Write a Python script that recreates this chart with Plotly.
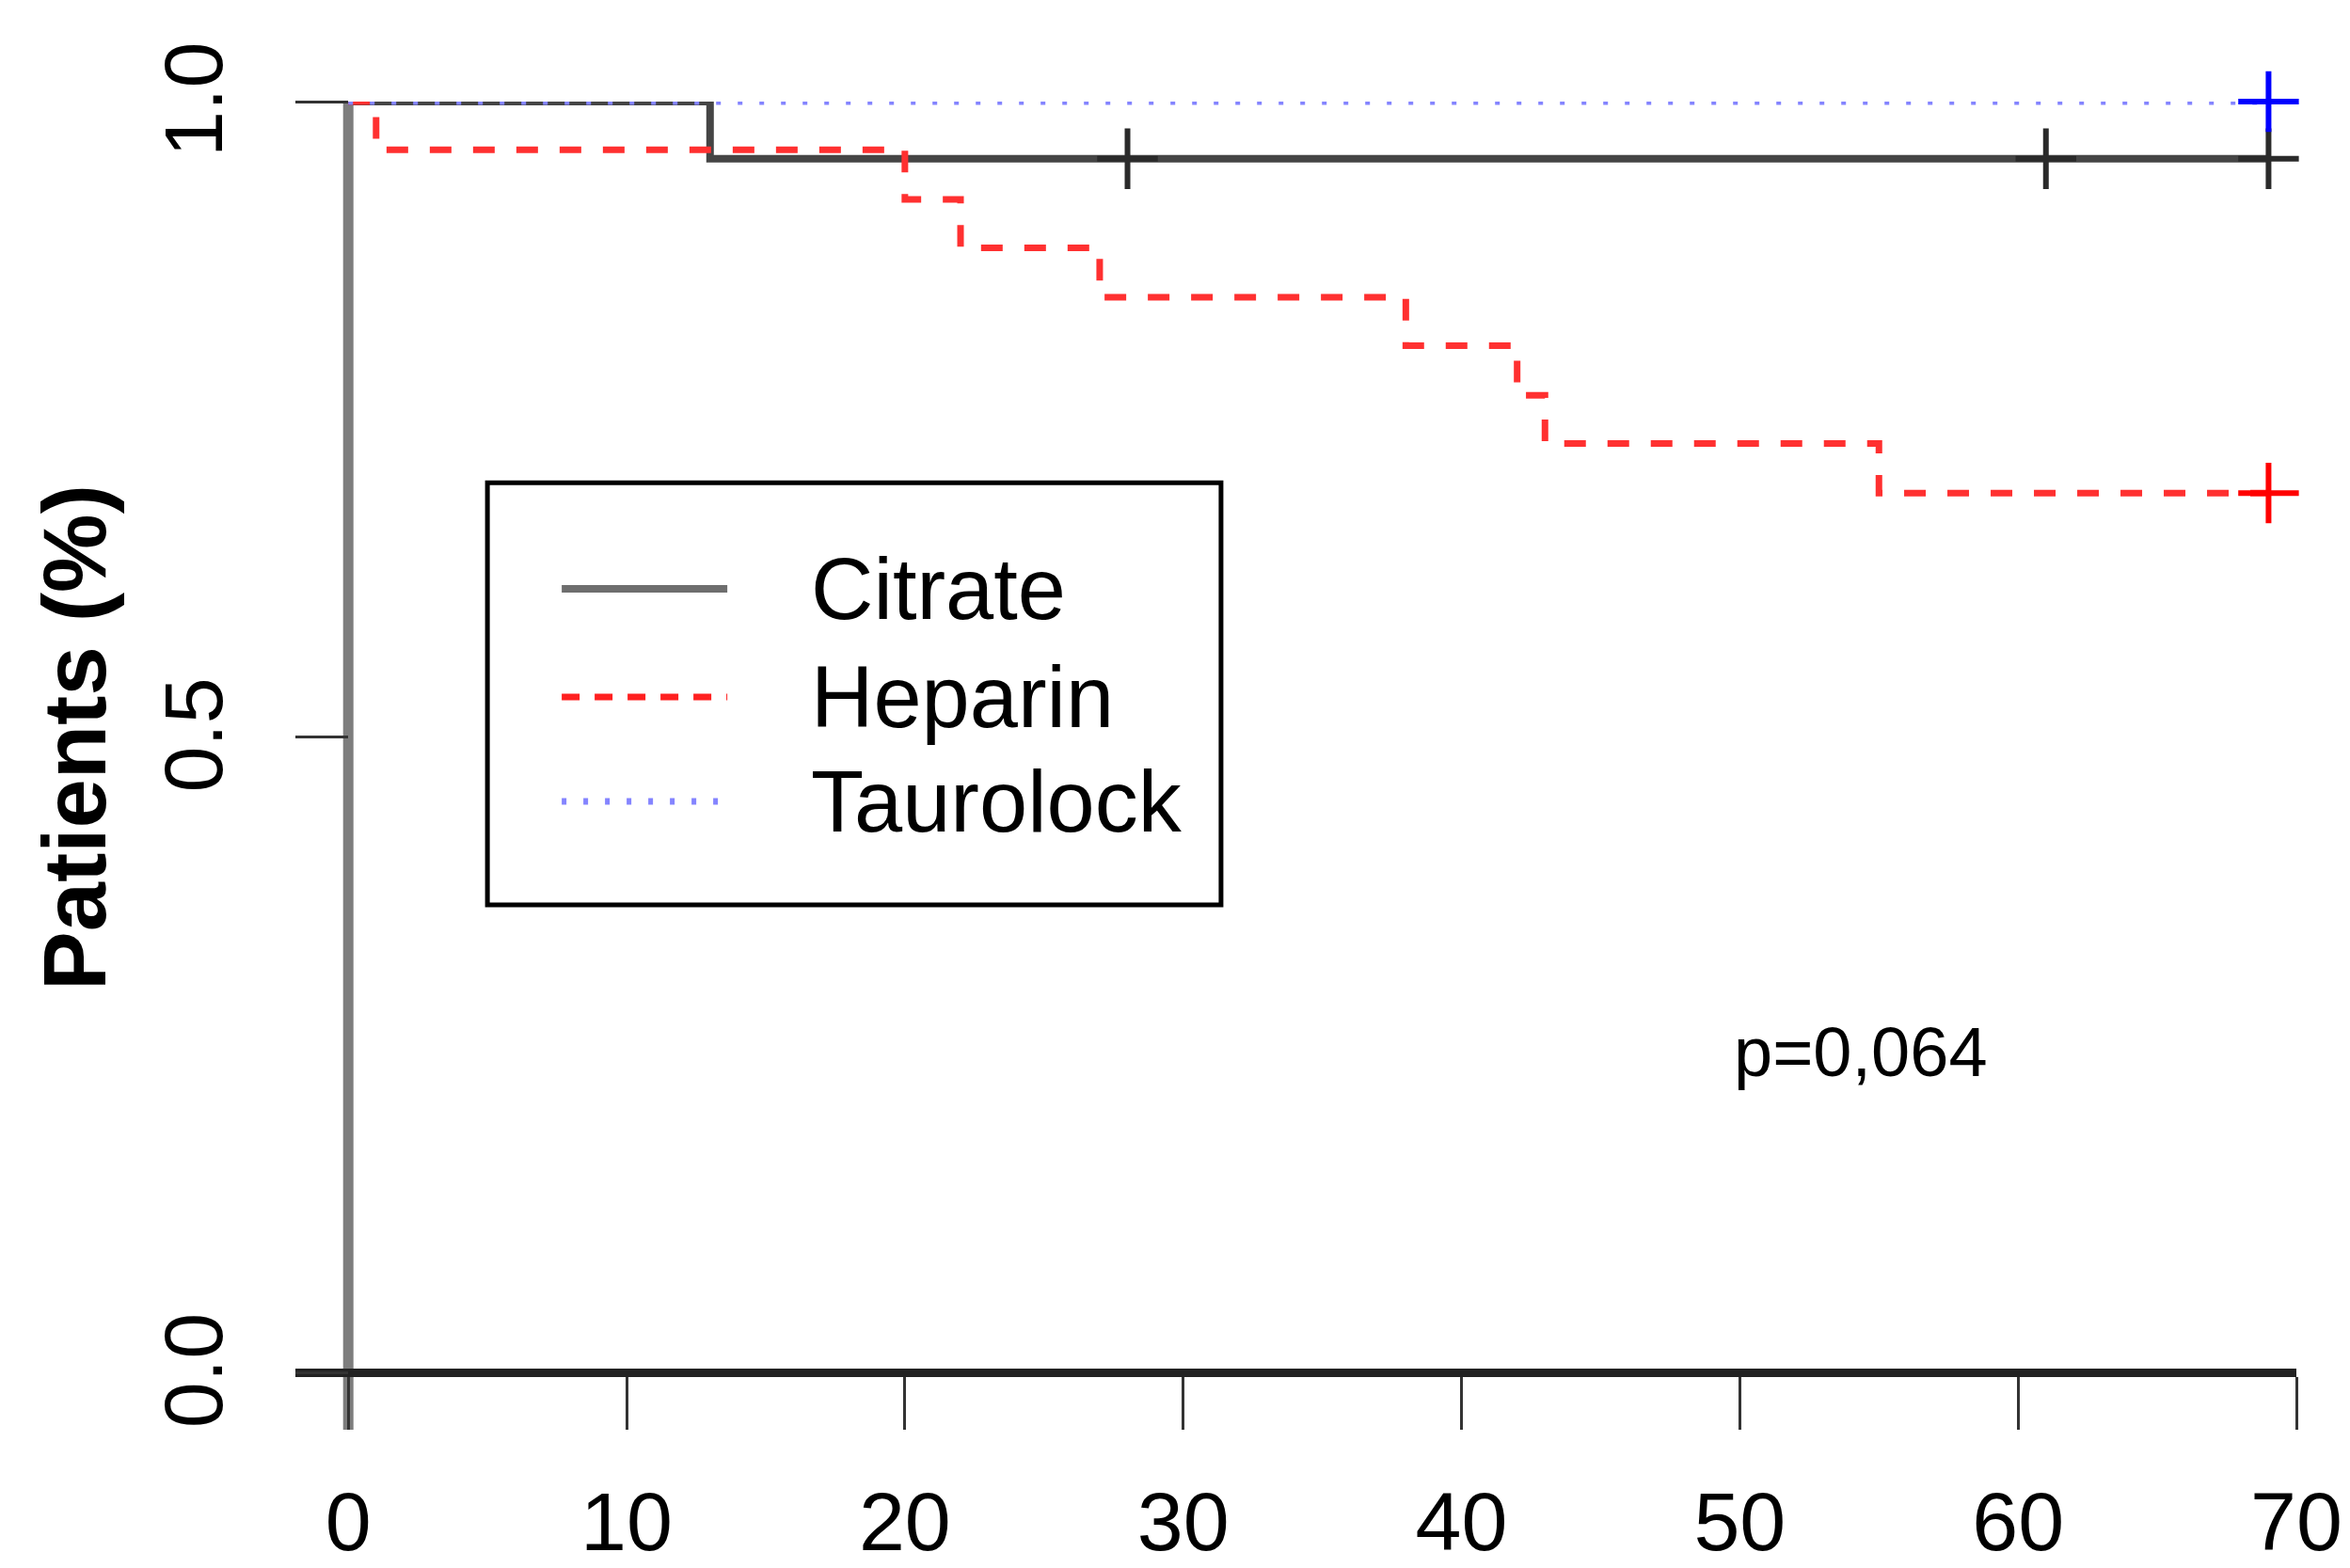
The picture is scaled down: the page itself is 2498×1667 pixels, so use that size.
import plotly.graph_objects as go

# ---- data ----
citrate_t = [0, 13, 69]
citrate_s = [1.0, 0.955, 0.955]
citrate_cens_t = [28, 61, 69]
citrate_cens_s = [0.955, 0.955, 0.955]

heparin_t = [0, 1, 20, 22, 27, 38, 42, 43, 55, 69]
heparin_s = [1.0, 0.962, 0.923, 0.885, 0.846, 0.808, 0.769, 0.731, 0.692, 0.692]
heparin_cens_t = [69]
heparin_cens_s = [0.692]

tauro_t = [0, 69]
tauro_s = [1.0, 1.0]
tauro_cens_t = [69]
tauro_cens_s = [1.0]

group_names = ["Citrate", "Heparin", "Taurolock"]
x_ticks = [0, 10, 20, 30, 40, 50, 60, 70]
y_ticks = [0.0, 0.5, 1.0]
y_tick_text = ["0.0", "0.5", "1.0"]
p_text = "p=0,064"
y_title = "Patients (%)"

# ---- figure geometry ----
W, H = 2498, 1667
XR = [-1.9, 70.0]
YR = [-0.045, 1.0]
ML, MR, MT, MB = 306, 65, 100, 155

FONT = "Liberation Sans, Arial, sans-serif"

fig = go.Figure()

styles = [
    dict(color="#454545", width=8, dash="solid"),
    dict(color="#ff3030", width=7, dash="23px,23px"),
    dict(color="#8484ff", width=7, dash="5px,18px"),
]
cross_cols = ["#2a2a2a", "#ff0000", "#0000ff"]
curves = [(citrate_t, citrate_s, citrate_cens_t, citrate_cens_s),
          (heparin_t, heparin_s, heparin_cens_t, heparin_cens_s),
          (tauro_t, tauro_s, tauro_cens_t, tauro_cens_s)]

for name, st, cc, (t, s, ct, cs) in zip(group_names, styles, cross_cols, curves):
    fig.add_trace(go.Scatter(x=t, y=s, mode="lines", line_shape="hv",
                             line=st, name=name, showlegend=False,
                             cliponaxis=False, hoverinfo="skip"))
    fig.add_trace(go.Scatter(x=ct, y=cs, mode="markers", showlegend=False,
                             cliponaxis=False, hoverinfo="skip",
                             marker=dict(symbol="cross-thin", size=46,
                                         line=dict(color=cc, width=6))))

# vertical axis line at x = 0 (drawn as in the reference, inside the frame)
shapes = [
    dict(type="line", xref="x", yref="y", x0=0, x1=0, y0=YR[0], y1=1.0,
         line=dict(color="#7d7d7d", width=11), layer="below"),
]

# ---- manual legend ----
leg_box = dict(x0=5.0, x1=31.36, y0=0.368, y1=0.700)
leg_line_x = [7.67, 13.62]
leg_y = [0.6166, 0.5315, 0.4493]
leg_text_x = 16.56
leg_sample_styles = [
    dict(color="#6e6e6e", width=8, dash="solid"),
    dict(color="#ff2020", width=7, dash="19px,16px"),
    dict(color="#8484ff", width=7, dash="5px,18px"),
]
shapes.append(dict(type="rect", xref="x", yref="y", **leg_box,
                   line=dict(color="black", width=5), fillcolor="rgba(0,0,0,0)"))
annotations = []
for name, ly, st in zip(group_names, leg_y, leg_sample_styles):
    shapes.append(dict(type="line", xref="x", yref="y",
                       x0=leg_line_x[0], x1=leg_line_x[1], y0=ly, y1=ly, line=st))
    annotations.append(dict(x=leg_text_x, y=ly, xref="x", yref="y", text=name,
                            showarrow=False, xanchor="left", yanchor="middle",
                            font=dict(family=FONT, size=92, color="black")))

# p-value
annotations.append(dict(x=54.35, y=0.252, xref="x", yref="y", text=p_text,
                        showarrow=False, xanchor="center", yanchor="middle",
                        font=dict(family=FONT, size=74, color="black")))

# y-axis title (paper coordinates)
plot_w = W - ML - MR
plot_h = H - MT - MB
annotations.append(dict(x=(71 - ML) / plot_w, y=(H - MB - 776) / plot_h,
                        xref="paper", yref="paper", text="<b>" + y_title + "</b>",
                        showarrow=False, xanchor="center", yanchor="middle", textangle=-90,
                        font=dict(family="Liberation Sans Narrow, " + FONT, size=94, color="black")))

fig.update_layout(
    width=W, height=H,
    margin=dict(l=ML, r=MR, t=MT, b=MB, pad=0, autoexpand=False),
    paper_bgcolor="white", plot_bgcolor="white",
    shapes=shapes, annotations=annotations,
    showlegend=False,
    xaxis=dict(range=XR, anchor="free", position=(0 - YR[0]) / (YR[1] - YR[0]),
               automargin=False,
               showgrid=False, zeroline=False,
               showline=True, linecolor="#222222", linewidth=9,
               ticks="outside", ticklen=56, tickwidth=3, tickcolor="#333333",
               tickvals=x_ticks, ticktext=[str(v) for v in x_ticks],
               ticklabelstandoff=22,
               tickfont=dict(family=FONT, size=88, color="black")),
    yaxis=dict(range=YR, anchor="free", position=(0 - XR[0]) / (XR[1] - XR[0]),
               automargin=False,
               showgrid=False, zeroline=False, showline=False,
               ticks="outside", ticklen=56, tickwidth=3, tickcolor="#333333",
               tickvals=y_ticks, ticktext=y_tick_text, tickangle=-90,
               ticklabelstandoff=43, ticklabelshift=11,
               tickfont=dict(family=FONT, size=88, color="black")),
)

fig.write_html("out.html")
